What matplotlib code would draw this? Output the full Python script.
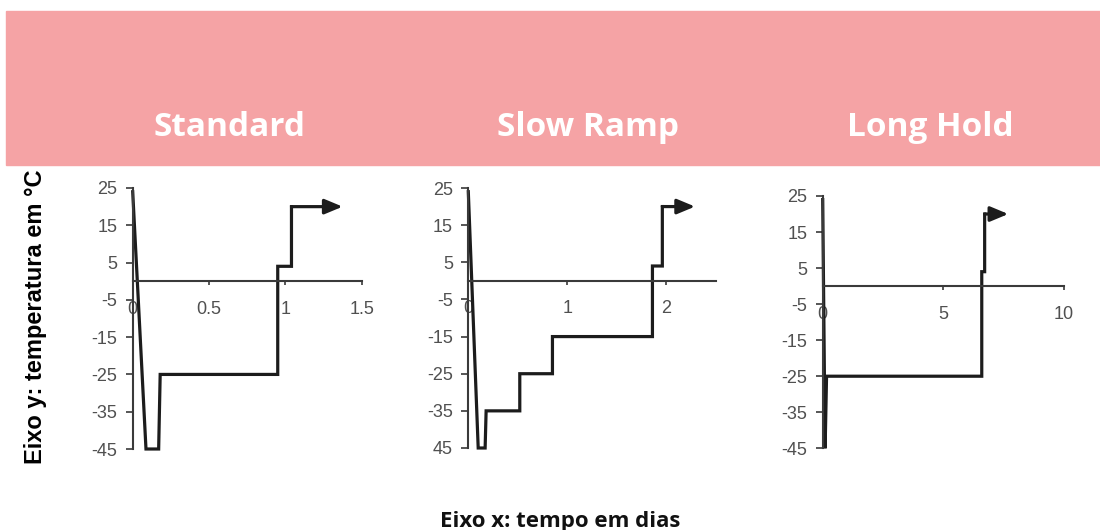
import matplotlib.pyplot as plt
from matplotlib.patches import Rectangle

# freezing protocols: time in days vs temperature in degC
titles = ['Standard', 'Slow Ramp', 'Long Hold']

std_t = [0, 0.087, 0.17, 0.18, 0.95, 0.95, 1.04, 1.04, 1.375]
std_temp = [24, -45, -45, -25, -25, 4, 4, 20, 20]

slow_t = [0, 0.10, 0.17, 0.18, 0.52, 0.52, 0.85, 0.85, 1.86, 1.86, 1.96, 1.96, 2.29]
slow_temp = [24, -45, -45, -35, -35, -25, -25, -15, -15, 4, 4, 20, 20]

long_t = [0, 0.1, 0.16, 6.6, 6.6, 6.72, 6.72, 7.7]
long_temp = [24, -45, -25, -25, 4, 4, 20, 20]

yticks = [25, 15, 5, -5, -15, -25, -35, -45]
ylabels = ['25', '15', '5', '-5', '-15', '-25', '-35', '-45']
ylabels_slow = ['25', '15', '5', '-5', '-15', '-25', '-35', '45']

xticks = [[0, 0.5, 1, 1.5], [0, 1, 2], [0, 5, 10]]
xlabels = [['0', '0.5', '1', '1.5'], ['0', '1', '2'], ['0', '5', '10']]
xmax = [1.5, 2.5, 10]

series = [(std_t, std_temp), (slow_t, slow_temp), (long_t, long_temp)]
ylab_sets = [ylabels, ylabels_slow, ylabels]

W, H = 1100, 530
fig = plt.figure(figsize=(11, 5.3), dpi=100)

pink = '#F5A3A5'
fig.patches.append(Rectangle((6 / W, 1 - 165 / H), 1, 154 / H,
                             transform=fig.transFigure, color=pink, zorder=0))

# axes boxes in pixels: left, top(25), right(xmax), bottom(-45)
boxes = [(132.7, 188, 361.7, 449), (468.3, 188, 715.8, 448), (822.7, 196, 1063.7, 448.3)]
title_x = [230, 588, 930]

line_col = '#1c1c1c'
axis_col = '#3a3a3a'
tick_col = '#505050'

for i, (x0, y0, x1, y1) in enumerate(boxes):
    ax = fig.add_axes([x0 / W, 1 - y1 / H, (x1 - x0) / W, (y1 - y0) / H])
    ax.patch.set_alpha(0)
    ax.set_xlim(0, xmax[i])
    ax.set_ylim(-45, 25)
    ax.spines['top'].set_visible(False)
    ax.spines['right'].set_visible(False)
    ax.spines['bottom'].set_position(('data', 0))
    ax.spines['left'].set_bounds(-45, 25)
    for s in ['left', 'bottom']:
        ax.spines[s].set_color(axis_col)
        ax.spines[s].set_linewidth(1.5)

    ax.set_yticks(yticks)
    ax.set_yticklabels(ylab_sets[i])
    ax.set_xticks(xticks[i])
    ax.set_xticklabels(xlabels[i])
    ax.tick_params(axis='y', direction='out', length=5, width=1.2, pad=6,
                   colors=axis_col, labelcolor=tick_col, labelsize=13)
    ax.tick_params(axis='x', direction='out', length=3, width=1.2, pad=11,
                   colors=axis_col, labelcolor=tick_col, labelsize=13)
    for lab in ax.get_xticklabels() + ax.get_yticklabels():
        lab.set_family('Liberation Sans')

    t, temp = series[i]
    ax.plot(t[:-1], temp[:-1], color=line_col, lw=2.3, clip_on=False,
            solid_joinstyle='miter')
    ax.annotate('', xy=(t[-1], temp[-1]), xytext=(t[-2], temp[-2]),
                arrowprops=dict(arrowstyle='-|>,head_length=0.6,head_width=0.25',
                                color=line_col, lw=2.3, mutation_scale=18,
                                shrinkA=0, shrinkB=0))

    fig.text(title_x[i] / W, 1 - 128 / H, titles[i], color='white',
             fontsize=24, fontweight='bold', family='Open Sans',
             ha='center', va='center')

fig.text(36 / W, 1 - 317 / H, 'Eixo y: temperatura em °C', rotation=90,
         fontsize=17, fontweight='bold', family='Liberation Sans',
         ha='center', va='center', color='black')
fig.text(560 / W, 1 - 527 / H, 'Eixo x: tempo em dias', fontsize=16,
         fontweight='bold', family='Open Sans', ha='center', va='baseline',
         color='#111111')

fig.savefig('out.png', dpi=100)
